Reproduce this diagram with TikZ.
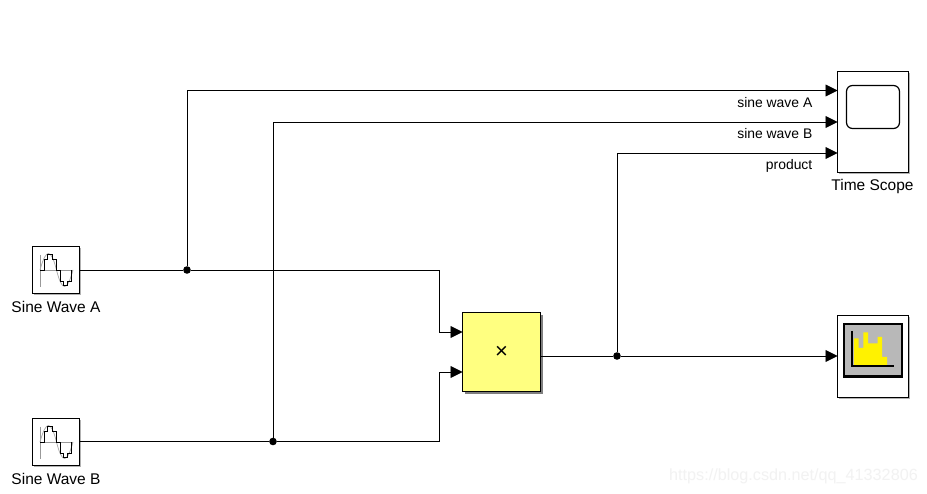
\documentclass[tikz,border=0pt]{standalone}
\usepackage{fontspec}
\setmainfont{Liberation Sans}
\usetikzlibrary{arrows.meta,shadows,calc}
\definecolor{prodyellow}{HTML}{FFFF80}
\definecolor{scopegrey}{HTML}{B8B8B8}
\definecolor{wmgrey}{HTML}{F2F2F2}
\tikzset{
  blockbox/.style={draw=black,line width=1.1pt,fill=white,inner sep=0pt,outer sep=0pt,
    drop shadow={shadow xshift=1.5pt,shadow yshift=-1.5pt,fill=black,opacity=.3}},
  prodbox/.style={draw=black,line width=1.1pt,fill=prodyellow,inner sep=0pt,outer sep=0pt,
    drop shadow={shadow xshift=2.5pt,shadow yshift=-2.5pt,fill=black,opacity=.5}},
  wire/.style={draw=black,line width=0.9pt,-{Triangle[length=12pt,width=12pt]}},
  plainwire/.style={draw=black,line width=0.9pt},
  junction/.style={circle,fill=black,inner sep=0pt,minimum size=7.6pt},
  blocklabel/.style={font=\fontsize{15.5}{17}\selectfont,text=black,inner sep=0pt},
  siglabel/.style={font=\fontsize{13.9}{15}\selectfont,text=black,inner sep=0pt,anchor=east},
}
\begin{document}
\begin{tikzpicture}[x=1pt,y=-1pt]
\useasboundingbox (0,0) rectangle (927,494);
\fill[white] (0,0) rectangle (927,494);
% blocks
\node[blockbox,minimum width=47pt,minimum height=47pt] (sineA) at (56,270) {};
\node[blockbox,minimum width=47pt,minimum height=47pt] (sineB) at (56,442) {};
\node[prodbox,minimum width=78pt,minimum height=79pt] (prod) at (501.5,352)
  {\fontsize{22}{23}\selectfont ×};
\node[blockbox,minimum width=71pt,minimum height=101pt] (scope) at (873,122) {};
\node[blockbox,minimum width=71pt,minimum height=82pt] (hist) at (873,356.5) {};
% block labels
\node[blocklabel] (labA) at (56,307) {Sine Wave A};
\node[blocklabel] (labB) at (56,479) {Sine Wave B};
\node[blocklabel] (labS) at (872.5,186) {Time Scope};
% icons: sine blocks
\foreach \oy/\n in {270/a,442/b}{
  \begin{scope}[shift={(0,\oy)}]
    \draw[black!40,line width=.7pt] (40,-15) -- (40,17);
    \draw[black!40,line width=.7pt] (40,0) -- (73,0);
    \draw[black!35,line width=.7pt] (40,0) .. controls (46,-22) and (51,-22) .. (56.5,0)
       .. controls (62,22) and (67,22) .. (73,0);
    \draw[black,line width=.8pt] (40,0) -- (44.3,0) -- (44.3,-10.5) -- (47.7,-10.5) -- (47.7,-16) -- (52.3,-16)
      -- (52.3,-10.5) -- (56,-10.5) -- (56,0) -- (60,0) -- (60,11.5) -- (63.3,11.5) -- (63.3,15.5)
      -- (67.7,15.5) -- (67.7,11.5) -- (71.7,11.5) -- (71.7,0);
  \end{scope}
}
% icon: scope
\draw[black,line width=1.2pt,rounded corners=6pt] (846.5,85.5) rectangle (899.5,128.5);
% icon: histogram
\draw[black,line width=2.8pt,fill=scopegrey] (844,324) rectangle (902,376.5);
\fill[yellow]
  (854,365.5) -- (854,338.5) -- (858.7,338.5) -- (858.7,348) -- (863.4,348) -- (863.4,332.5)
  -- (868.1,332.5) -- (868.1,343.5) -- (877.5,343.5) -- (877.5,337) -- (882.2,337)
  -- (882.2,357) -- (887,357) -- (887,365.5) -- cycle;
\draw[black,line width=1.2pt] (852,331) -- (852,366) -- (894,366);
% connector end points
\coordinate (inP1) at (prod.west |- 0,332);
\coordinate (inP2) at (prod.west |- 0,372);
\coordinate (inS1) at (scope.west |- 0,90.5);
\coordinate (inS2) at (scope.west |- 0,122);
\coordinate (inS3) at (scope.west |- 0,153);
% junctions
\node[junction] (jA) at (187,270) {};
\node[junction] (jB) at (273,441.5) {};
\node[junction] (jP) at (617,356) {};
\coordinate (inH) at (hist.west |- jP);
% connectors
\draw[plainwire] (sineA.east) -- (jA);
\draw[wire] (jA) -- (439.5,270) -- (439.5,332) -- (inP1);
\draw[plainwire] (sineB.east |- jB) -- (jB);
\draw[wire] (jB) -- (439.5,441.5) -- (439.5,372) -- (inP2);
\draw[wire] (jA) -- (187,90.5) -- (inS1);
\draw[wire] (jB) -- (273,122) -- (inS2);
\draw[wire] (jP) -- (617,153) -- (inS3);
\draw[plainwire] (prod.east |- jP) -- (jP);
\draw[wire] (jP) -- (inH);
% signal labels
\node[siglabel] (sigA) at (812.5,102.5) {sine wave A};
\node[siglabel] (sigB) at (812.5,133.5) {sine wave B};
\node[siglabel] (sigC) at (812.5,165.5) {product};
% watermark
\node[text=wmgrey,font=\fontsize{16.2}{18}\selectfont,inner sep=0pt,anchor=east] (wm) at (918,476) {https://blog.csdn.net/qq\_41332806};
\end{tikzpicture}
\end{document}
